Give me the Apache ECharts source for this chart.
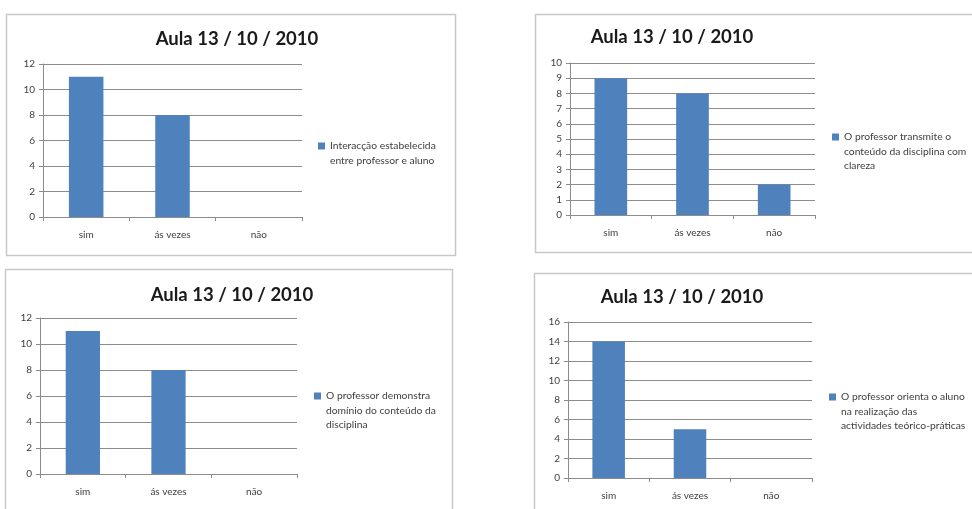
<!DOCTYPE html>
<html><head><meta charset="utf-8">
<script src="https://cdn.jsdelivr.net/npm/echarts@6/dist/echarts.min.js"></script>
<style>html,body{margin:0;padding:0;background:#fff}#c{width:972px;height:509px}</style>
</head><body><div id="c"></div>
<script>
const categories = ['sim', 'ás vezes', 'não'];
const titleText = 'Aula 13 / 10 / 2010';
const seriesNames = [
  'Interacção estabelecida\nentre professor e aluno',
  'O professor transmite o\nconteúdo da disciplina com\nclareza',
  'O professor demonstra\ndomínio do conteúdo da\ndisciplina',
  'O professor orienta o aluno\nna realização das\nactividades teórico-práticas'
];
const values1 = [11, 8, 0];
const values2 = [9, 8, 2];
const values3 = [11, 8, 0];
const values4 = [14, 5, 0];
const allValues = [values1, values2, values3, values4];
const yMax = [12, 10, 12, 16];
const yInterval = [2, 1, 2, 2];

const layout = [
  {grid:{left:43, top:64, width:259, height:153}, title:{x:232, y:37}, legend:{left:318, top:146}, box:[6,14,449,241]},
  {grid:{left:570, top:63, width:245, height:152}, title:{x:667, y:35}, legend:{left:832, top:137}, box:[535,14,460,238]},
  {grid:{left:40, top:318, width:257, height:156}, title:{x:227, y:293}, legend:{left:314, top:396}, box:[5,269,447,260]},
  {grid:{left:568, top:322, width:244, height:156}, title:{x:677, y:295}, legend:{left:829, top:397}, box:[534,273,460,260]}
];
const font = 'Lato, "Open Sans", sans-serif';
const LH = 14.5;
const chart = echarts.init(document.getElementById('c'), null, {renderer:'canvas'});
const option = {
  backgroundColor:'#ffffff',
  animation:false,
  title:[], grid:[], xAxis:[], yAxis:[], legend:[], series:[],
  graphic:[]
};
layout.forEach((L,i)=>{
  option.graphic.push({type:'rect', shape:{x:L.box[0]+0.5, y:L.box[1]+0.5, width:L.box[2], height:L.box[3]},
    style:{fill:'none', stroke:'#c8c8c8', lineWidth:1.5}, z:-1});
  option.title.push({text:titleText, left:L.title.x, top:L.title.y - 12, textAlign:'center',
    textStyle:{fontFamily:font, fontWeight:'bold', fontSize:18.5, color:'#1a1a1a'}});
  option.grid.push(Object.assign({containLabel:false}, L.grid));
  option.xAxis.push({type:'category', gridIndex:i, data:categories, boundaryGap:true,
    axisLine:{lineStyle:{color:'#8c8c8c'}}, axisTick:{show:true, length:4, inside:false, lineStyle:{color:'#8c8c8c'}},
    axisLabel:{fontFamily:font, fontSize:10, color:'#404040', margin:13}});
  const lines = seriesNames[i].split('\n').length;
  const pad = '\u00a0\n'.repeat(lines-1);
  option.yAxis.push({type:'value', gridIndex:i, min:0, max:yMax[i], interval:yInterval[i],
    axisLine:{show:true, lineStyle:{color:'#8c8c8c'}}, axisTick:{show:true, length:4, lineStyle:{color:'#8c8c8c'}},
    splitLine:{lineStyle:{color:'#8c8c8c'}},
    axisLabel:{fontFamily:font, fontSize:10, color:'#404040', margin:8}});
  option.legend.push({data:[seriesNames[i]], left:L.legend.left, top:L.legend.top - 3.5 - (2*lines-1)*LH/2 + 3.5,
    orient:'vertical', icon:'rect', itemWidth:7, itemHeight:7, itemGap:4, padding:0, selectedMode:false,
    formatter: name => pad + name,
    textStyle:{fontFamily:font, fontSize:10.3, color:'#404040', lineHeight:LH}});
  option.series.push({type:'bar', name:seriesNames[i], xAxisIndex:i, yAxisIndex:i, data:allValues[i],
    barWidth:'40%', itemStyle:{color:'#4f81bd'}});
});
chart.setOption(option);
</script>
</body></html>
